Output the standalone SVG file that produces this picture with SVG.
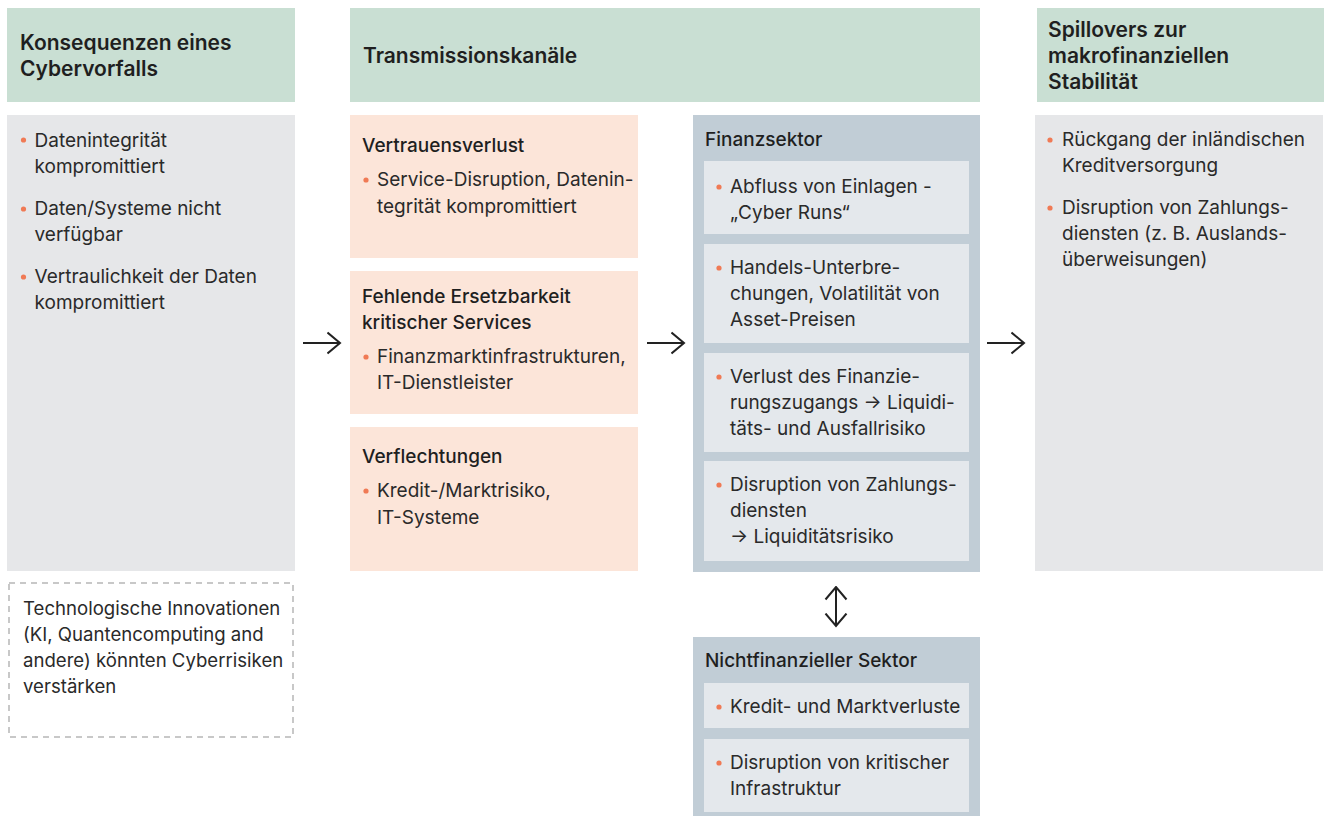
<svg xmlns="http://www.w3.org/2000/svg" width="1324" height="816" viewBox="0 0 1324 816">
<style>
.hdr{fill:#c9dfd3}
.gray{fill:#e6e7e9}
.peach{fill:#fce5d9}
.blue{fill:#c1cdd6}
.inner{fill:#e4e8ec}
text{font-family:Inter,"Liberation Sans",sans-serif;fill:#2a2a2a}
.h{font-size:21px;font-weight:600;fill:#1f1f1f}
.s{font-size:19px;font-weight:500;fill:#1f1f1f}
.t{font-size:19px;font-weight:400}
.d{font-size:18.6px;font-weight:400}
.b{fill:#f07a55}
.conn{stroke:#222;stroke-width:2;fill:none}
</style>
<defs>
<marker id="ah" viewBox="0 0 15 24" refX="13.5" refY="12" markerWidth="15" markerHeight="24" markerUnits="userSpaceOnUse" orient="auto-start-reverse">
<path d="M1,1.5 L13.5,12 L1,22.5" fill="none" stroke="#222" stroke-width="2"/>
</marker>
</defs>

<g id="col1-header">
<rect class="hdr" x="7" y="8" width="288" height="94"/>
<text class="h" x="20" y="50">Konsequenzen eines</text>
<text class="h" x="20" y="76">Cybervorfalls</text>
</g>

<g id="col1-body">
<rect class="gray" x="7" y="115" width="288" height="456"/>
<circle class="b" cx="23.5" cy="140" r="2.6"/>
<text class="t" x="34.5" y="146.5">Datenintegrität</text>
<text class="t" x="34.5" y="172.5">kompromittiert</text>
<circle class="b" cx="23.5" cy="209" r="2.6"/>
<text class="t" x="34.5" y="215">Daten/Systeme nicht</text>
<text class="t" x="34.5" y="241">verfügbar</text>
<circle class="b" cx="23.5" cy="277" r="2.6"/>
<text class="t" x="34.5" y="283">Vertraulichkeit der Daten</text>
<text class="t" x="34.5" y="309">kompromittiert</text>
</g>

<g id="tech-note">
<rect x="9" y="583" width="284" height="154" fill="none" stroke="#c8c8c8" stroke-width="2" stroke-dasharray="6,5"/>
<text class="d" x="23" y="615">Technologische Innovationen</text>
<text class="d" x="23" y="641">(KI, Quantencomputing and</text>
<text class="d" x="23" y="667">andere) könnten Cyberrisiken</text>
<text class="d" x="23" y="693">verstärken</text>
</g>

<g id="col2-header">
<rect class="hdr" x="350" y="8" width="630" height="94"/>
<text class="h" x="363" y="63">Transmissionskanäle</text>
</g>

<g id="vertrauensverlust">
<rect class="peach" x="350" y="115" width="288" height="143"/>
<text class="s" x="362" y="152">Vertrauensverlust</text>
<circle class="b" cx="366" cy="180" r="2.6"/>
<text class="t" x="377" y="186">Service-Disruption, Datenin-</text>
<text class="t" x="377" y="213">tegrität kompromittiert</text>
</g>

<g id="ersetzbarkeit">
<rect class="peach" x="350" y="271" width="288" height="143"/>
<text class="s" x="362" y="303">Fehlende Ersetzbarkeit</text>
<text class="s" x="362" y="329">kritischer Services</text>
<circle class="b" cx="366" cy="357" r="2.6"/>
<text class="t" x="377" y="363">Finanzmarktinfrastrukturen,</text>
<text class="t" x="377" y="389">IT-Dienstleister</text>
</g>

<g id="verflechtungen">
<rect class="peach" x="350" y="427" width="288" height="144"/>
<text class="s" x="362" y="463">Verflechtungen</text>
<circle class="b" cx="366" cy="491" r="2.6"/>
<text class="t" x="377" y="497">Kredit-/Marktrisiko,</text>
<text class="t" x="377" y="524">IT-Systeme</text>
</g>

<g id="finanzsektor">
<rect class="blue" x="693" y="115" width="287" height="457"/>
<text class="s" x="705" y="146">Finanzsektor</text>
<rect class="inner" x="704" y="161" width="265" height="73"/>
<circle class="b" cx="719" cy="187" r="2.6"/>
<text class="t" x="730" y="193">Abfluss von Einlagen -</text>
<text class="t" x="730" y="219">„Cyber Runs“</text>
<rect class="inner" x="704" y="244" width="265" height="99"/>
<circle class="b" cx="719" cy="268" r="2.6"/>
<text class="t" x="730" y="274">Handels-Unterbre-</text>
<text class="t" x="730" y="300">chungen, Volatilität von</text>
<text class="t" x="730" y="326">Asset-Preisen</text>
<rect class="inner" x="704" y="353" width="265" height="99"/>
<circle class="b" cx="719" cy="377" r="2.6"/>
<text class="t" x="730" y="383">Verlust des Finanzie-</text>
<text class="t" x="730" y="409">rungszugangs → Liquidi-</text>
<text class="t" x="730" y="435">täts- und Ausfallrisiko</text>
<rect class="inner" x="704" y="461" width="265" height="100"/>
<circle class="b" cx="719" cy="485" r="2.6"/>
<text class="t" x="730" y="491">Disruption von Zahlungs-</text>
<text class="t" x="730" y="517">diensten</text>
<text class="t" x="730" y="543">→ Liquiditätsrisiko</text>
</g>

<g id="nichtfinanz">
<rect class="blue" x="693" y="637" width="287" height="179"/>
<text class="s" x="705" y="667">Nichtfinanzieller Sektor</text>
<rect class="inner" x="704" y="683" width="265" height="45"/>
<circle class="b" cx="719" cy="707" r="2.6"/>
<text class="t" x="730" y="713">Kredit- und Marktverluste</text>
<rect class="inner" x="704" y="739" width="265" height="73"/>
<circle class="b" cx="719" cy="763" r="2.6"/>
<text class="t" x="730" y="769">Disruption von kritischer</text>
<text class="t" x="730" y="795">Infrastruktur</text>
</g>

<g id="col3-header">
<rect class="hdr" x="1037" y="8" width="287" height="94"/>
<text class="h" x="1048" y="37">Spillovers zur</text>
<text class="h" x="1048" y="63">makrofinanziellen</text>
<text class="h" x="1048" y="89">Stabilität</text>
</g>

<g id="col3-body">
<rect class="gray" x="1035" y="115" width="288" height="456"/>
<circle class="b" cx="1050" cy="140" r="2.6"/>
<text class="t" x="1062" y="146">Rückgang der inländischen</text>
<text class="t" x="1062" y="172">Kreditversorgung</text>
<circle class="b" cx="1050" cy="208" r="2.6"/>
<text class="t" x="1062" y="214">Disruption von Zahlungs-</text>
<text class="t" x="1062" y="240">diensten (z. B. Auslands-</text>
<text class="t" x="1062" y="266">überweisungen)</text>
</g>

<g id="connectors">
<line class="conn" x1="303" y1="343" x2="340" y2="343" marker-end="url(#ah)"/>
<line class="conn" x1="647" y1="343" x2="684" y2="343" marker-end="url(#ah)"/>
<line class="conn" x1="987" y1="343" x2="1024" y2="343" marker-end="url(#ah)"/>
<line class="conn" x1="836" y1="587" x2="836" y2="626" marker-start="url(#ah)" marker-end="url(#ah)"/>
</g>
</svg>
